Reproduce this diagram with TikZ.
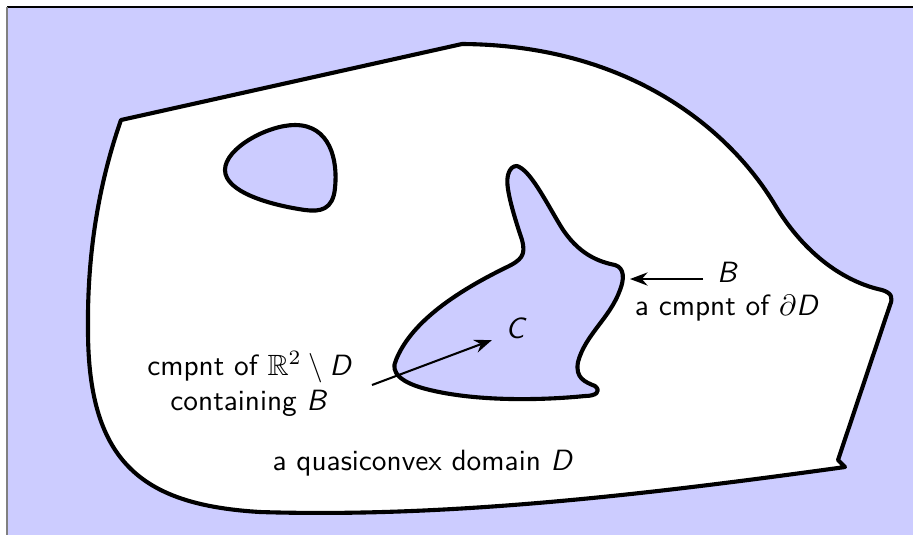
\documentclass[tikz,border=0pt]{standalone}
\usepackage{amsmath,amssymb}
\usepackage{tikz}
\usetikzlibrary{arrows.meta, positioning}
\definecolor{holeblue}{RGB}{204, 204, 255}

\begin{document}
\begin{tikzpicture}[
        x=0.0120cm, y=-0.0120cm,
        region/.style={draw=black, line width=1.4pt, line join=round},
        hole/.style={region, fill=holeblue},
        lbl/.style={font=\sffamily, inner sep=1pt, align=center},
        pointer/.style={-{Stealth[length=6pt, width=4.5pt]}, line width=0.7pt}
    ]
        % Frame
        \useasboundingbox (0,0) rectangle (913,535);
        \fill[holeblue] (7,7) rectangle (913,535);
        \draw[black, line width=0.5pt] (7,7) -- (913,7);
        \draw[gray, line width=0.5pt] (7,7) -- (7,535);

        % The domain D
        \draw[region, fill=white] (121,120) -- (462,44)
            .. controls (630,45) and (730,130) .. (775,205)
            .. controls (805,255) and (845,282) .. (882,290)
            .. controls (892,293) and (893,298) .. (890,305)
            -- (838,460) -- (845,467)
            .. controls (650,494) and (450,518) .. (260,512)
            .. controls (145,505) and (88,465) .. (88,330)
            .. controls (87,250) and (100,180) .. (121,120) -- cycle;

        % Small hole
        \draw[hole] (225,170) .. controls (225,148) and (268,125) .. (295,125)
            .. controls (330,125) and (338,160) .. (335,188)
            .. controls (333,210) and (320,212) .. (305,210)
            .. controls (270,205) and (225,192) .. (225,170) -- cycle;

        % Component C
        \draw[hole] (517,166)
            .. controls (530,170) and (545,200) .. (560,225)
            .. controls (578,255) and (600,262) .. (615,265)
            .. controls (625,268) and (624,280) .. (620,290)
            .. controls (610,318) and (585,335) .. (578,362)
            .. controls (575,378) and (585,382) .. (595,386)
            .. controls (602,392) and (595,396) .. (585,396)
            .. controls (545,400) and (480,402) .. (430,390)
            .. controls (400,383) and (390,372) .. (396,360)
            .. controls (410,325) and (450,295) .. (505,268)
            .. controls (522,260) and (526,255) .. (522,240)
            .. controls (512,210) and (505,185) .. (508,175)
            .. controls (510,168) and (513,166) .. (517,166) -- cycle;

        % Labels
        \node (compC) [lbl] at (515,328) {\itshape C};
        \node (compB) [lbl] at (727,272) {\itshape B};
        \node (bndry) [lbl, below=2pt of compB] {a cmpnt of $\partial$\textit{D}};
        \node (cmpnt) [lbl] at (249,384) {cmpnt of $\mathbb{R}^2 \setminus \text{\itshape D}$\\containing \textit{B}};
        \node (domain) [lbl] at (423,463) {a quasiconvex domain \textit{D}};

        % Arrows
        \coordinate (bTail) at (703,279);
        \coordinate (bTip) at (630,279);
        \coordinate (cTail) at (372,385);
        \coordinate (cTip) at (492,340);
        \draw [pointer] (bTail) -- (bTip);
        \draw [pointer] (cTail) -- (cTip);
\end{tikzpicture}
\end{document}
